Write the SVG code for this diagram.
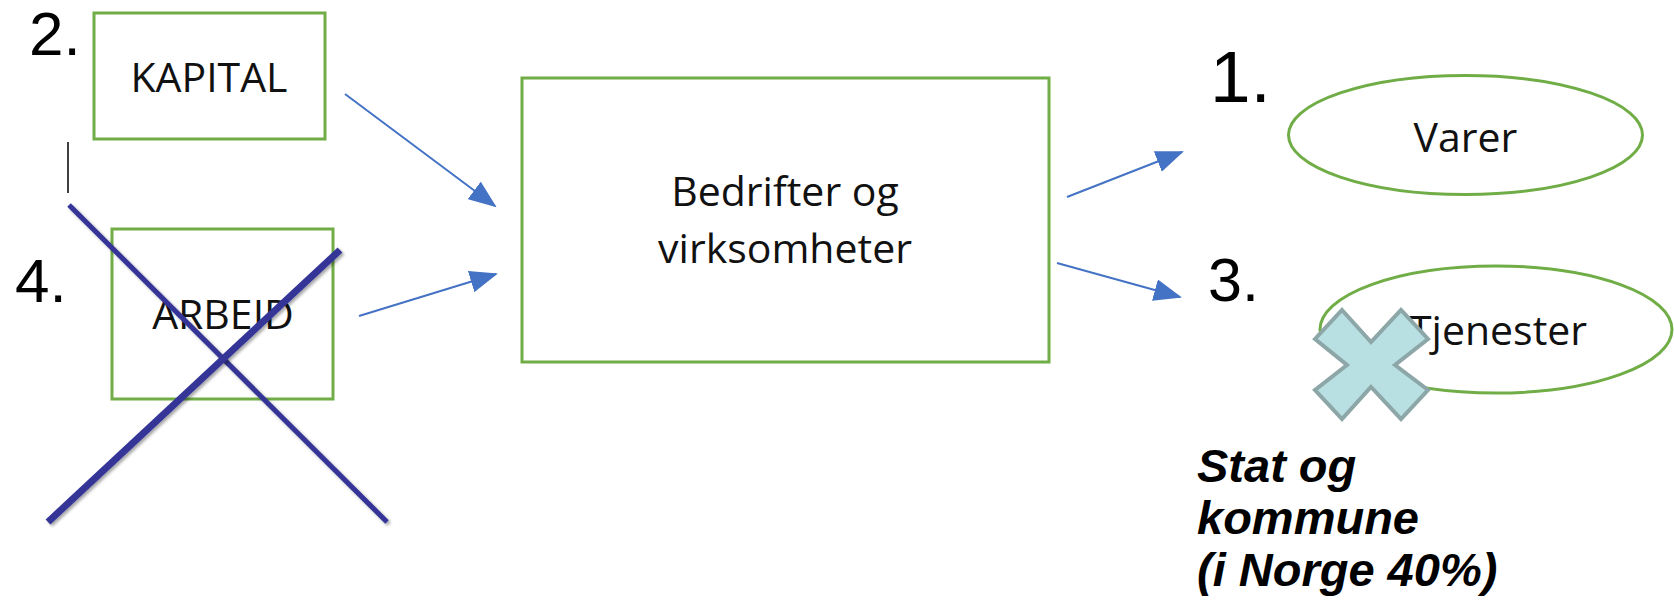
<svg xmlns="http://www.w3.org/2000/svg" width="1674" height="607" viewBox="0 0 1674 607">
<style>
.box{fill:#fff;stroke:#70AD47;stroke-width:3}
.ell{fill:#fff;stroke:#70AD47;stroke-width:3}
.lbl{font-family:"Open Sans","Liberation Sans",sans-serif;font-size:41px;fill:#111;text-anchor:middle}
.num{font-family:"Liberation Sans",Arial,sans-serif;fill:#000}
.conn{stroke:#4472C4;stroke-width:2;fill:none;marker-end:url(#ah)}
.xline{stroke:#353598;stroke-linecap:butt;filter:url(#sh)}
.note{font-family:"Liberation Sans",Arial,sans-serif;font-size:47px;font-weight:bold;font-style:italic;fill:#000}
</style>
<defs>
<marker id="ah" viewBox="0 0 14 11" refX="13" refY="5.5" markerWidth="14" markerHeight="11" orient="auto" markerUnits="strokeWidth">
<path d="M0,0 L14,5.5 L0,11 Z" fill="#4472C4"/>
</marker>
<filter id="sh" x="-10%" y="-10%" width="120%" height="120%">
<feDropShadow dx="2" dy="2" stdDeviation="1.5" flood-color="#000" flood-opacity="0.35"/>
</filter>
</defs>

<g id="kapital">
<rect class="box" x="94" y="13" width="231" height="126"/>
<text class="lbl" x="209" y="92">KAPITAL</text>
</g>
<g id="arbeid">
<rect class="box" x="112" y="229" width="221" height="170"/>
<text class="lbl" x="223" y="329">ARBEID</text>
</g>
<g id="bedrifter">
<rect class="box" x="522" y="78" width="527" height="284"/>
<text class="lbl" x="785" y="206">Bedrifter og</text>
<text class="lbl" x="785" y="263">virksomheter</text>
</g>
<g id="varer">
<ellipse class="ell" cx="1465.5" cy="135" rx="177" ry="59.5"/>
<text class="lbl" x="1465.5" y="152">Varer</text>
</g>
<g id="tjenester">
<ellipse class="ell" cx="1496" cy="329.5" rx="176" ry="63.5"/>
<text class="lbl" x="1498" y="345">Tjenester</text>
</g>

<g id="connectors">
<line class="conn" x1="345" y1="94" x2="495" y2="206"/>
<line class="conn" x1="359" y1="316" x2="496" y2="274"/>
<line class="conn" x1="1067" y1="197" x2="1182" y2="152"/>
<line class="conn" x1="1057" y1="263" x2="1180" y2="297"/>
</g>

<g id="numbers">
<text class="num" x="29" y="55" font-size="62">2.</text>
<text class="num" x="15" y="302" font-size="62">4.</text>
<text class="num" x="1210" y="102" font-size="73">1.</text>
<text class="num" x="1208" y="301" font-size="61">3.</text>
</g>

<g id="cursor">
<line x1="68" y1="142" x2="68" y2="193" stroke="#000" stroke-width="1.5"/>
</g>

<g id="cross-out">
<line class="xline" x1="69" y1="205" x2="387" y2="522" stroke-width="5"/>
<line class="xline" x1="48" y1="522" x2="340" y2="250" stroke-width="7"/>
</g>

<g id="cross-shape">
<polygon points="1342,310 1371,342 1401,310 1428,339 1395,365 1428,390 1401,419 1371,387 1342,419 1315,390 1347,365 1315,339" fill="#B8DFE2" stroke="#8DA6A8" stroke-width="4" stroke-linejoin="miter"/>
</g>

<g id="note">
<text class="note" x="1197" y="482">Stat og</text>
<text class="note" x="1197" y="534">kommune</text>
<text class="note" x="1197" y="586">(i Norge 40%)</text>
</g>
</svg>
